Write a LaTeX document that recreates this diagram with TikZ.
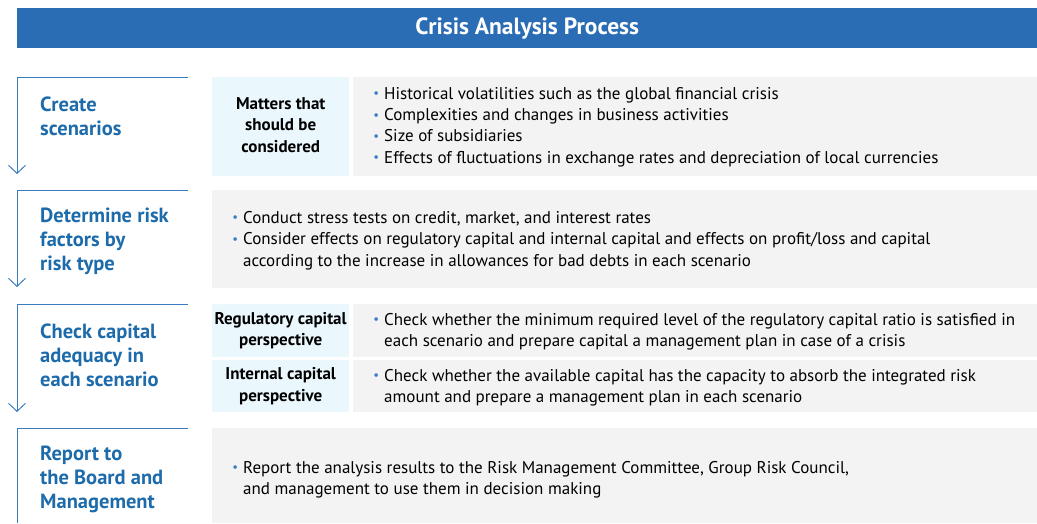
\documentclass[tikz,border=0pt]{standalone}
\usepackage{fontspec}
\setmainfont{PT Sans}
\usetikzlibrary{arrows.meta,positioning}
\definecolor{crisisBlue}{HTML}{2A6DB5}
\definecolor{stepBlue}{HTML}{1D6BAA}
\definecolor{lineBlue}{HTML}{3A7DBF}
\definecolor{paleBlue}{HTML}{EAF7FD}
\definecolor{paleGray}{HTML}{F3F3F3}
\definecolor{dotBlue}{HTML}{3C7CC4}
\newcommand{\bul}{\llap{\textcolor{dotBlue}{\raisebox{1.5pt}{\scalebox{0.75}{•}}}\hspace{5pt}}}
\tikzset{
  panel/.style={rectangle, fill=paleGray, anchor=north west, inner sep=0pt},
  topic/.style={rectangle, fill=paleBlue, anchor=north west, inner sep=0pt, minimum width=137pt},
  topictext/.style={align=center, inner sep=0pt, font=\fontsize{17}{21.5}\selectfont\bfseries},
  steplabel/.style={anchor=west, align=left, inner sep=0pt, text=stepBlue, font=\fontsize{20.5}{24}\selectfont\bfseries},
  bullets/.style={anchor=west, align=left, inner sep=0pt, font=\fontsize{17}{21.3}\selectfont},
  bracket/.style={draw=lineBlue, line width=1pt},
  down/.style={bracket, -{Straight Barb[length=8pt,width=17pt,line width=1pt]}}
}
\begin{document}
\begin{tikzpicture}[x=1pt, y=-1pt]
\useasboundingbox (0,0) rectangle (1037,523);
% title bar
\node[fill=crisisBlue, anchor=north west, minimum width=1020pt, minimum height=40pt, inner sep=0pt, text=white, font=\fontsize{23.5}{26}\selectfont\bfseries] (title) at (17,8) {Crisis Analysis Process};
% step brackets
\foreach \top/\tip in {77/174, 190/287, 304/412} {
  \coordinate (start\top) at (188,\top);
  \coordinate (corner\top) at (17,\top);
  \coordinate (tip\top) at (17,\tip);
  \draw[down] (start\top) -- (corner\top) -- (tip\top);
}
\coordinate (start428) at (188,428);
\coordinate (corner428) at (17,428);
\coordinate (end428) at (17,523);
\draw[bracket] (start428) -- (corner428) -- (end428);
% step labels
\node[steplabel] (create) at (40,116) {Create\\scenarios};
\node[steplabel] (determine) at (40,241) {Determine risk\\factors by\\risk type};
\node[steplabel] (check) at (40,355) {Check capital\\adequacy in\\each scenario};
\node[steplabel] (report) at (40,479) {Report to\\the Board and\\Management};
% row 1
\node[topic, minimum height=99pt] (matters) at (212,77) {};
\node[panel, minimum width=684pt, minimum height=99pt] (mattersList) at (353,77) {};
\node[topictext] at ([yshift=2pt]matters.center) {Matters that\\should be\\considered};
\node[bullets] (mattersText) at (384,127) {\bul Historical volatilities such as the global financial crisis\\
  \bul Complexities and changes in business activities\\
  \bul Size of subsidiaries\\
  \bul Effects of fluctuations in exchange rates and depreciation of local currencies};
% row 2
\node[panel, minimum width=825pt, minimum height=98pt] (factors) at (212,190) {};
\node[bullets] (factorsText) at (243,240.5) {\bul Conduct stress tests on credit, market, and interest rates\\
  \bul Consider effects on regulatory capital and internal capital and effects on profit/loss and capital\\
  according to the increase in allowances for bad debts in each scenario};
% row 3
\node[topic, minimum height=53pt] (regulatory) at (212,304) {};
\node[panel, minimum width=684pt, minimum height=53pt] (regulatoryList) at (353,304) {};
\node[topic, minimum height=52pt] (internal) at (212,360) {};
\node[panel, minimum width=684pt, minimum height=52pt] (internalList) at (353,360) {};
\node[topictext] at (regulatory.center) {Regulatory capital\\perspective};
\node[topictext] at (internal.center) {Internal capital\\perspective};
\node[bullets] (regulatoryText) at (384,331.5) {\bul Check whether the minimum required level of the regulatory capital ratio is satisfied in\\
  each scenario and prepare capital a management plan in case of a crisis};
\node[bullets] (internalText) at (384,387.5) {\bul Check whether the available capital has the capacity to absorb the integrated risk\\
  amount and prepare a management plan in each scenario};
% row 4
\node[panel, minimum width=825pt, minimum height=95pt] (board) at (212,428) {};
\node[bullets] (boardText) at (243,479.5) {\bul Report the analysis results to the Risk Management Committee, Group Risk Council,\\
  and management to use them in decision making};
\end{tikzpicture}
\end{document}
